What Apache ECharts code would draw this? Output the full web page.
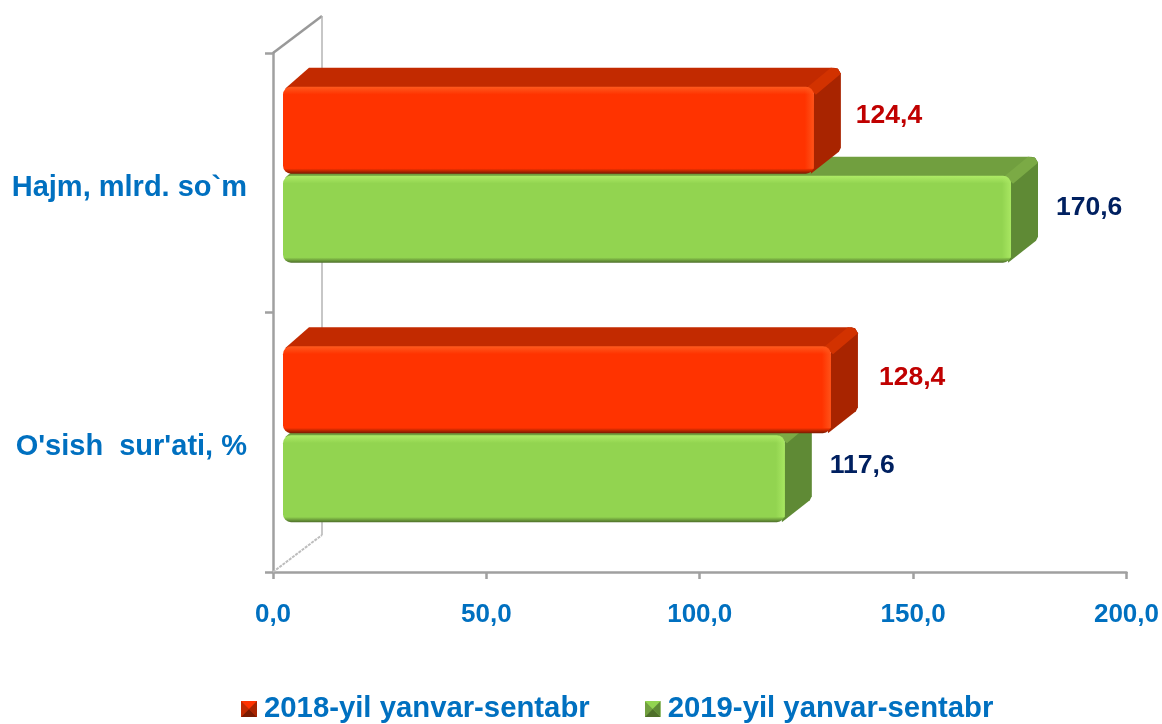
<!DOCTYPE html>
<html>
<head>
<meta charset="utf-8">
<title>Hajm va o'sish sur'ati</title>
<script src="https://cdn.jsdelivr.net/npm/echarts@6/dist/echarts.min.js"></script>
<style>
  html, body { margin: 0; padding: 0; background: #fff; }
  #main { width: 1162px; height: 724px; }
</style>
</head>
<body>
<div id="main"></div>
<script>
const categories = ["Hajm, mlrd. so`m", "O'sish  sur'ati, %"];
const seriesNames = ['2018-yil yanvar-sentabr', '2019-yil yanvar-sentabr'];
const values2018 = [124.4, 128.4];
const values2019 = [170.6, 117.6];

const FONT = '"Liberation Sans", Arial, sans-serif';
const BLUE = '#0070C0';
const AXIS = '#A0A0A0';
// depth of the fake 3d box
const DX = 27, DY = -19;

const red = {
  front: '#FF3300', hi: '#FF5A1E', lo: '#7A1A00', top: '#C22A00', side: '#A82400', edge: '#D23200', text: '#C00000'
};
const green = {
  front: '#92D450', hi: '#AEEB66', lo: '#4E6F2A', top: '#719F3F', side: '#5F8A35', edge: '#7BAA45', text: '#002060'
};

function fmt(v) {
  return v.toFixed(1).replace('.', ',');
}

function legendIcon(c) {
  const svg = '<svg xmlns="http://www.w3.org/2000/svg" width="16" height="16">' +
    '<rect width="16" height="16" fill="' + c.front + '"/>' +
    '<polygon points="0,0 16,0 8,8" fill="' + c.front + '"/>' +
    '<polygon points="0,0 0,16 8,8" fill="' + c.top + '"/>' +
    '<polygon points="16,0 16,16 8,8" fill="' + c.side + '"/>' +
    '<polygon points="0,16 16,16 8,8" fill="' + c.lo + '"/>' +
    '</svg>';
  return 'image://data:image/svg+xml;charset=utf-8,' + encodeURIComponent(svg);
}

// one box: front face, top, side, plus value text
function boxRenderer(colors, y0, y1, shifts) {
  return function (params, api) {
    const band = api.size([0, 1])[1];
    const end = api.coord([api.value(0), api.value(1)]);
    const start = api.coord([0, api.value(1)]);
    const x0 = start[0] + 10;
    const x1 = end[0] + 10;
    const top = end[1] + y0 * band;
    const bottom = end[1] + y1 * band;
    const s = shifts[params.dataIndex];
    const bx = x1 + DX, by = top + DY, bb = bottom + DY;
    return {
      type: 'group',
      children: [
        {
          type: 'polygon',
          shape: { points: [[x0 + 2, top + 2], [x0 + DX - 1, by], [bx - 8, by], [bx - 3, by + 1], [bx, by + 6], [x1, top + 6]] },
          style: { fill: colors.top }
        },
        {
          type: 'polygon',
          shape: { points: [[x1, top], [bx - 7, by], [bx - 3, by + 1], [bx, by + 6], [bx, bb - 7], [bx - 2, bb - 3], [x1 - 3, bottom]] },
          style: { fill: colors.side }
        },
        {
          type: 'polygon',
          shape: { points: [[x1 - 6, top], [bx - 10, by], [bx - 3, by + 1], [bx, by + 6], [x1 + 2, top + 8]] },
          style: { fill: colors.edge }
        },
        {
          type: 'rect',
          shape: { x: x0, y: top, width: x1 - x0, height: bottom - top, r: 8 },
          style: {
            fill: {
              type: 'linear', x: 0, y: 0, x2: 0, y2: 1,
              colorStops: [
                { offset: 0, color: colors.hi },
                { offset: 0.09, color: colors.front },
                { offset: 0.94, color: colors.front },
                { offset: 1, color: colors.lo }
              ]
            }
          }
        },
        {
          type: 'rect',
          shape: { x: x1 - 9, y: top + 1, width: 9, height: bottom - top - 6, r: [0, 8, 0, 0] },
          style: {
            fill: {
              type: 'linear', x: 0, y: 0, x2: 1, y2: 0,
              colorStops: [
                { offset: 0, color: colors.hi + '00' },
                { offset: 1, color: colors.hi + 'CC' }
              ]
            }
          }
        },
        {
          type: 'text',
          style: {
            x: x1 + s[0],
            y: end[1] + (y0 + y1) / 2 * band + s[1],
            text: fmt(api.value(0)),
            fill: colors.text,
            font: 'bold 26.5px ' + FONT,
            align: 'left',
            verticalAlign: 'middle'
          }
        }
      ]
    };
  };
}

// side wall behind the boxes, hangs off the grid rectangle
function wallRenderer(params, api) {
  const g = params.coordSys;
  const wx = 49, wy = -37;
  const xl = g.x, yt = g.y, yb = g.y + g.height;
  return {
    type: 'group',
    children: [
      { type: 'line', shape: { x1: xl, y1: yt, x2: xl + wx, y2: yt + wy }, style: { stroke: '#999999', lineWidth: 2.5 } },
      { type: 'line', shape: { x1: xl + wx, y1: yt + wy, x2: xl + wx, y2: yb + wy }, style: { stroke: '#B4B4B4', lineWidth: 1.5 } },
      { type: 'line', shape: { x1: xl, y1: yb, x2: xl + wx, y2: yb + wy }, style: { stroke: '#BDBDBD', lineWidth: 2, lineDash: [3, 1] } }
    ]
  };
}

const chart = echarts.init(document.getElementById('main'));
chart.setOption({
  animation: false,
  backgroundColor: '#fff',
  grid: { left: 273, top: 53, right: 35, bottom: 152 },
  legend: {
    left: 241,
    top: 694.5,
    itemWidth: 16,
    itemHeight: 16,
    itemGap: 55,
    padding: 0,
    selectedMode: false,
    textStyle: { color: BLUE, fontFamily: FONT, fontWeight: 'bold', fontSize: 29.3, padding: [0, 0, 0, 2] },
    data: [
      { name: seriesNames[0], icon: legendIcon(red) },
      { name: seriesNames[1], icon: legendIcon(green) }
    ]
  },
  xAxis: {
    type: 'value',
    min: 0,
    max: 200,
    interval: 50,
    splitLine: { show: false },
    axisLine: { show: true, lineStyle: { color: AXIS, width: 2.5 } },
    axisTick: { show: true, length: 7, lineStyle: { color: AXIS, width: 2.5 } },
    axisLabel: {
      color: BLUE, fontFamily: FONT, fontWeight: 'bold', fontSize: 26, margin: 30,
      formatter: fmt
    }
  },
  yAxis: {
    type: 'category',
    inverse: true,
    data: categories,
    axisLine: { show: true, lineStyle: { color: AXIS, width: 2.5 } },
    axisTick: { show: true, length: 8, lineStyle: { color: AXIS, width: 2.5 } },
    axisLabel: {
      color: BLUE, fontFamily: FONT, fontWeight: 'bold', fontSize: 29, margin: 26,
      verticalAlign: 'top',
      lineHeight: 10
    }
  },
  series: [
    {
      name: 'wall',
      type: 'custom',
      z: 1,
      silent: true,
      renderItem: wallRenderer,
      data: [[0, 0]],
      encode: { x: 0, y: 1 }
    },
    {
      name: seriesNames[1],
      type: 'custom',
      z: 2,
      itemStyle: { color: green.front },
      renderItem: boxRenderer(green, -0.027, 0.308, [[45, -12], [45, -13]]),
      data: values2019.map((v, i) => [v, i]),
      encode: { x: 0, y: 1 }
    },
    {
      name: seriesNames[0],
      type: 'custom',
      z: 3,
      itemStyle: { color: red.front },
      renderItem: boxRenderer(red, -0.37, -0.035, [[42, -15], [48, -12]]),
      data: values2018.map((v, i) => [v, i]),
      encode: { x: 0, y: 1 }
    }
  ]
});
</script>
</body>
</html>
